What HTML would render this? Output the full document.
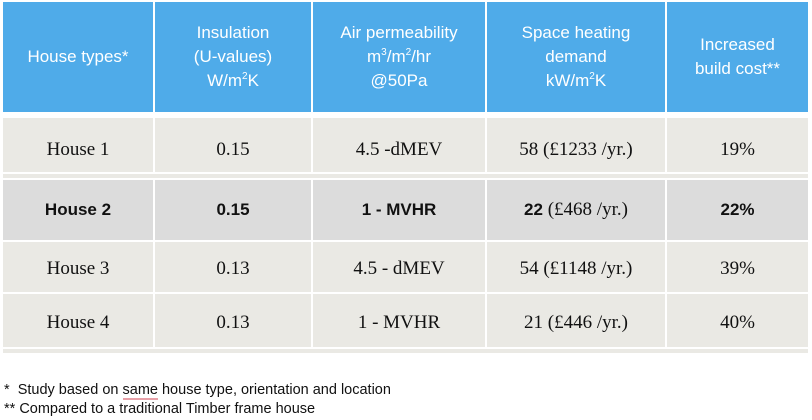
<!DOCTYPE html>
<html><head><meta charset="utf-8"><style>
body{margin:0;width:812px;height:420px;background:#fff;position:relative;overflow:hidden;font-family:"Liberation Sans",sans-serif}
.c{position:absolute;display:flex;align-items:center;justify-content:center;text-align:center;box-sizing:border-box}
.h{background:#4fabe9;color:#fff;font-size:17px;line-height:24px}
.r1{background:#eae9e4}.r2{background:#dcdcdc}
.s{font-family:"Liberation Serif",serif;font-size:19px;color:#111}
.b{font-family:"Liberation Sans",sans-serif;font-weight:bold;font-size:17px;color:#111}
sup{font-size:10px;vertical-align:7px;line-height:0}
.f{position:absolute;left:4px;font-size:14.5px;color:#111}
</style></head><body>
<div class="c h" style="left:3px;top:2px;width:150px;height:110px"><span>House types*</span></div>
<div class="c h" style="left:155px;top:2px;width:156px;height:110px"><span>Insulation<br>(U-values)<br>W/m<sup>2</sup>K</span></div>
<div class="c h" style="left:313px;top:2px;width:172px;height:110px"><span>Air permeability<br>m<sup>3</sup>/m<sup>2</sup>/hr<br>@50Pa</span></div>
<div class="c h" style="left:487px;top:2px;width:178px;height:110px"><span>Space heating<br>demand<br>kW/m<sup>2</sup>K</span></div>
<div class="c h" style="left:667px;top:2px;width:141px;height:110px"><span>Increased<br>build cost**</span></div>

<div class="c r1 s" style="left:3px;top:118px;width:150px;height:54px;padding-top:10px"><span>House 1</span></div>
<div class="c r1 s" style="left:155px;top:118px;width:156px;height:54px;padding-top:10px"><span>0.15</span></div>
<div class="c r1 s" style="left:313px;top:118px;width:172px;height:54px;padding-top:10px"><span>4.5 -dMEV</span></div>
<div class="c r1 s" style="left:487px;top:118px;width:178px;height:54px;padding-top:10px"><span>58 (£1233 /yr.)</span></div>
<div class="c r1 s" style="left:667px;top:118px;width:141px;height:54px;padding-top:10px"><span>19%</span></div>
<div class="r1" style="position:absolute;left:3px;top:174px;width:805px;height:4px"></div>

<div class="c r2 b" style="left:3px;top:180px;width:150px;height:60px"><span>House 2</span></div>
<div class="c r2 b" style="left:155px;top:180px;width:156px;height:60px"><span>0.15</span></div>
<div class="c r2 b" style="left:313px;top:180px;width:172px;height:60px"><span>1 - MVHR</span></div>
<div class="c r2 s" style="left:487px;top:180px;width:178px;height:60px"><span><b style="font-family:'Liberation Sans',sans-serif;font-size:17px">22</b> (£468 /yr.)</span></div>
<div class="c r2 b" style="left:667px;top:180px;width:141px;height:60px"><span>22%</span></div>

<div class="c r1 s" style="left:3px;top:242px;width:150px;height:50px;padding-top:3px"><span>House 3</span></div>
<div class="c r1 s" style="left:155px;top:242px;width:156px;height:50px;padding-top:3px"><span>0.13</span></div>
<div class="c r1 s" style="left:313px;top:242px;width:172px;height:50px;padding-top:3px"><span>4.5 - dMEV</span></div>
<div class="c r1 s" style="left:487px;top:242px;width:178px;height:50px;padding-top:3px"><span>54 (£1148 /yr.)</span></div>
<div class="c r1 s" style="left:667px;top:242px;width:141px;height:50px;padding-top:3px"><span>39%</span></div>

<div class="c r1 s" style="left:3px;top:294px;width:150px;height:53px;padding-top:5px"><span>House 4</span></div>
<div class="c r1 s" style="left:155px;top:294px;width:156px;height:53px;padding-top:5px"><span>0.13</span></div>
<div class="c r1 s" style="left:313px;top:294px;width:172px;height:53px;padding-top:5px"><span>1 - MVHR</span></div>
<div class="c r1 s" style="left:487px;top:294px;width:178px;height:53px;padding-top:5px"><span>21 (£446 /yr.)</span></div>
<div class="c r1 s" style="left:667px;top:294px;width:141px;height:53px;padding-top:5px"><span>40%</span></div>
<div class="r1" style="position:absolute;left:3px;top:349px;width:805px;height:4px"></div>

<div class="f" style="top:382px">*&nbsp;&nbsp;Study based on <span style="border-bottom:2px solid #e8a0a8">same</span> house type, orientation and location</div>
<div class="f" style="top:401px">** Compared to a traditional Timber frame house</div>
</body></html>
